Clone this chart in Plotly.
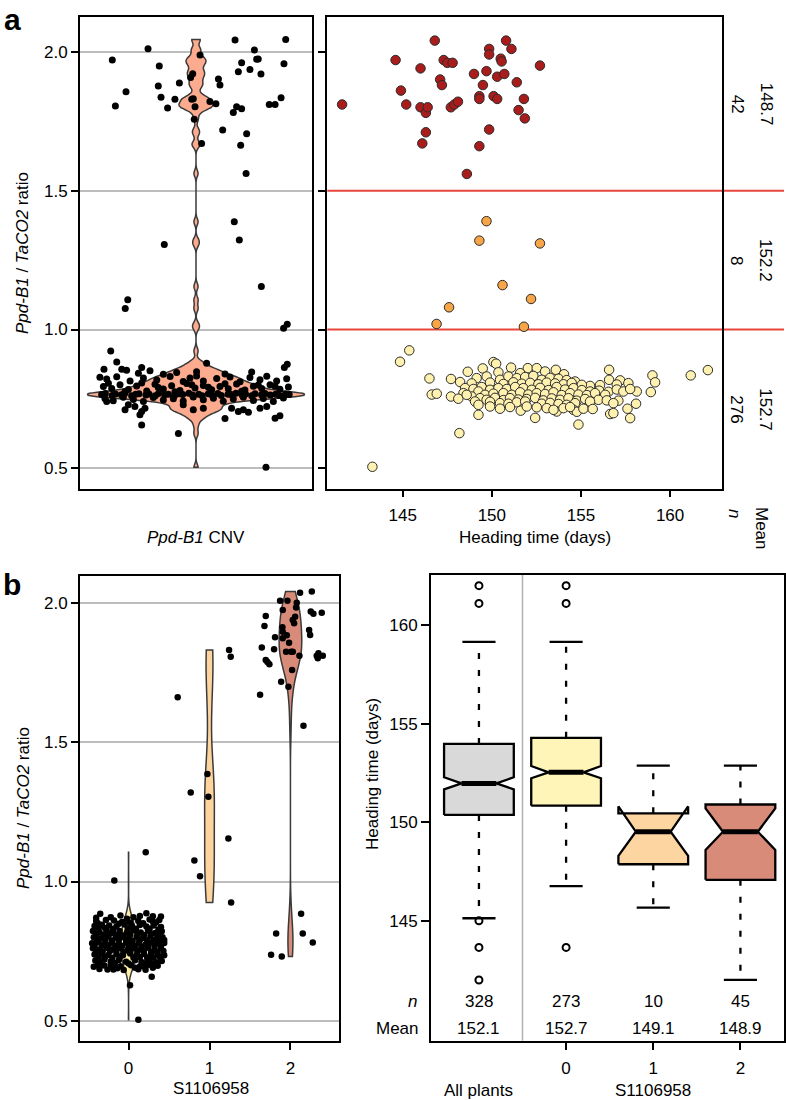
import plotly.graph_objects as go

W, H = 786, 1100
def X(p): return p / W
def Y(p): return 1 - p / H

FONT = "Liberation Sans, Arial, Helvetica, sans-serif"

# ---------------- panel a (right): heading time vs Ppd-B1 ratio ----------------
red_pts = [(141.6,1.81),(144.6,1.97),(144.9,1.86),(145.2,1.81),(146.0,1.94),(146.0,1.80),(146.3,1.78),
           (146.4,1.80),(146.3,1.71),(146.1,1.67),(146.8,2.04),(147.1,1.90),(147.2,1.88),(147.3,1.97),
           (147.5,1.96),(147.8,1.96),(147.7,1.80),(147.9,1.81),(148.1,1.82),(148.6,1.56),(149.0,1.92),
           (149.3,1.84),(149.3,1.83),(149.3,1.66),(149.5,1.88),(149.7,1.93),(149.85,2.01),(149.85,1.99),
           (149.85,1.72),(150.1,1.84),(150.3,1.83),(150.3,1.91),(150.5,1.975),(150.55,1.965),(150.7,1.92),
           (150.8,2.04),(151.1,2.01),(151.4,1.89),(151.5,1.79),(151.8,1.83),(151.85,1.76),(152.7,1.95)]
orange_pts = [(149.7,1.39),(149.3,1.32),(152.7,1.31),(150.6,1.16),(152.2,1.11),(147.6,1.08),(146.9,1.02),(151.8,1.01)]
yellow_pts = [
    (144.85,0.884),(145.37,0.925),(148.65,0.848),(149.49,0.860),(150.09,0.883),(150.24,0.877),(151.08,0.863),
    (152.02,0.861),(152.52,0.861),(152.99,0.849),(153.59,0.855),(154.05,0.839),(156.58,0.855),(159.01,0.835),
    (161.16,0.835),(162.12,0.854),(150.37,0.846),(151.59,0.843),
    (146.50,0.824),(147.71,0.822),(148.22,0.811),(149.71,0.831),(150.46,0.819),(150.93,0.831),(151.40,0.825),
    (151.87,0.829),(152.33,0.833),(152.80,0.819),(153.27,0.826),(153.74,0.823),(154.20,0.818),(154.67,0.813),
    (155.51,0.797),(156.58,0.819),(157.20,0.817),(157.66,0.807),(159.16,0.810),(149.15,0.825),(148.87,0.806),
    (149.90,0.809),(150.65,0.804),(151.21,0.810),(151.68,0.805),(152.15,0.808),(152.61,0.803),(153.08,0.809),
    (153.55,0.806),(154.02,0.803),(154.48,0.808),(155.05,0.801),(156.07,0.800),(157.01,0.802),
    (146.63,0.766),(146.91,0.769),(148.50,0.789),(148.97,0.786),(149.43,0.793),(149.90,0.783),(150.37,0.789),
    (150.84,0.786),(151.31,0.793),(151.77,0.789),(152.24,0.783),(152.71,0.790),(153.18,0.782),(153.64,0.793),
    (154.11,0.784),(154.58,0.789),(155.05,0.782),(155.51,0.777),(156.02,0.780),(156.54,0.776),(157.01,0.784),
    (157.38,0.777),(158.13,0.777),(158.92,0.775),(148.41,0.771),(149.25,0.777),(149.62,0.765),(150.09,0.769),
    (150.65,0.771),(151.12,0.765),(151.59,0.774),(152.05,0.766),(152.52,0.771),(152.99,0.768),(153.46,0.774),
    (153.92,0.764),(154.39,0.771),(154.86,0.766),(155.33,0.764),(155.79,0.771),(156.36,0.765),(157.76,0.786),
    (147.71,0.759),(148.12,0.751),(148.87,0.759),(149.34,0.753),(149.71,0.747),(150.18,0.754),(150.65,0.746),
    (151.02,0.753),(151.49,0.748),(151.96,0.750),(152.43,0.754),(152.89,0.745),(153.36,0.752),(153.83,0.747),
    (154.30,0.753),(154.76,0.744),(155.23,0.750),(155.98,0.747),(156.45,0.745),(157.10,0.744),(149.90,0.740),
    (148.59,0.765),(149.06,0.741),(150.46,0.735),(150.93,0.733),(151.40,0.738),(151.87,0.741),(152.80,0.733),
    (153.27,0.736),(153.74,0.732),(154.20,0.729),(154.67,0.735),(155.51,0.741),(156.82,0.735),
    (149.25,0.729),(149.25,0.693),(149.90,0.723),(150.46,0.715),(151.02,0.721),(151.62,0.708),(151.96,0.723),
    (152.52,0.720),(153.08,0.717),(153.64,0.705),(154.02,0.717),(154.58,0.711),(154.77,0.704),(155.14,0.715),
    (155.66,0.714),(156.64,0.696),(157.61,0.715),(158.09,0.733),(152.43,0.682),(154.86,0.658),(157.76,0.681),
    (148.18,0.627),(153.46,0.711),(154.39,0.721),(156.82,0.699),(143.3,0.506)]

cnv_cuts = [1.0, 1.5]
cnv_n = ["42", "8", "276"]
cnv_means = ["148.7", "152.2", "152.7"]
heading_ticks = [145, 150, 155, 160]
ratio_ticks = [0.5, 1.0, 1.5, 2.0]
ratio_ticktext = ["0.5", "1.0", "1.5", "2.0"]

# ---------------- panel a (left): jittered ratios, one CNV violin ----------------
cnv_jit_pts = [
    (0.567,1.970),(0.583,1.805),(0.638,1.856),(0.752,2.011),(0.810,1.949),(0.805,1.877),(0.819,1.836),
    (0.853,1.797),(0.891,1.829),(0.914,1.887),(0.836,1.306),(0.972,1.907),(0.983,1.921),(0.978,1.829),
    (1.021,1.988),(1.029,1.670),(0.986,1.831),(0.995,1.802),(0.991,1.757),(1.072,1.821),(1.103,1.813),
    (1.116,1.902),(1.124,1.880),(1.138,1.718),(1.198,1.388),(1.224,1.322),(1.202,2.042),(1.193,1.781),
    (1.210,1.802),(1.236,1.795),(1.219,1.928),(1.236,1.960),(1.231,1.663),(1.259,1.562),(1.262,1.705),
    (1.279,1.936),(1.302,2.006),(1.314,1.973),(1.322,1.974),(1.336,1.920),(1.379,1.810),(1.409,1.810),
    (1.440,1.834),(1.455,1.957),(1.464,2.044),
    (0.647,1.107),(0.634,1.076),(1.338,1.155),(1.453,1.005),(1.472,1.019),
    (0.559,0.923),(0.590,0.883),(0.524,0.857),(0.719,0.863),(0.762,0.852),(1.055,0.879),(1.457,0.863),
    (1.472,0.875),(1.288,0.847),(0.616,0.857),(0.641,0.853),(0.702,0.843),(0.831,0.839),(0.900,0.845),
    (1.003,0.848),(1.150,0.840),
    (0.538,0.822),(0.590,0.830),(0.659,0.815),(0.728,0.826),(0.797,0.818),(0.866,0.831),(0.934,0.813),
    (0.969,0.826),(1.003,0.833),(1.038,0.815),(1.107,0.824),(1.176,0.829),(1.228,0.812),(1.279,0.827),
    (1.331,0.819),(1.366,0.832),(1.417,0.815),(1.469,0.823),(0.503,0.828),
    (0.521,0.795),(0.564,0.788),(0.607,0.801),(0.650,0.784),(0.693,0.797),(0.745,0.779),(0.788,0.803),
    (0.831,0.786),(0.874,0.798),(0.917,0.781),(0.952,0.806),(0.995,0.790),(1.038,0.799),(1.081,0.783),
    (1.124,0.795),(1.167,0.787),(1.210,0.804),(1.253,0.782),(1.297,0.796),(1.340,0.788),(1.383,0.801),
    (1.434,0.785),(1.478,0.793),(0.547,0.807),(0.633,0.777),(0.719,0.808),(0.805,0.791),(0.891,0.776),
    (0.978,0.801),(1.064,0.792),(1.150,0.805),(1.236,0.778),(1.322,0.800),(1.409,0.796),
    (0.512,0.766),(0.531,0.770),(0.566,0.763),(0.583,0.768),(0.614,0.765),(0.632,0.771),(0.667,0.762),
    (0.688,0.767),(0.705,0.769),(0.741,0.764),(0.757,0.768),(0.789,0.762),(0.806,0.770),(0.838,0.765),
    (0.857,0.767),(0.889,0.763),(0.913,0.769),(0.931,0.766),(0.963,0.771),(0.982,0.764),(1.014,0.767),
    (1.032,0.762),(1.064,0.769),(1.081,0.765),(1.113,0.770),(1.131,0.763),(1.166,0.767),(1.182,0.766),
    (1.207,0.771),(1.239,0.764),(1.256,0.768),(1.288,0.762),(1.305,0.769),(1.339,0.765),(1.357,0.770),
    (1.384,0.764),(1.412,0.767),(1.431,0.763),(1.463,0.768),(1.482,0.766),
    (0.529,0.752),(0.572,0.744),(0.624,0.756),(0.676,0.748),(0.728,0.741),(0.779,0.755),(0.831,0.746),
    (0.883,0.751),(0.934,0.743),(0.986,0.757),(1.038,0.747),(1.090,0.753),(1.141,0.742),(1.193,0.750),
    (1.245,0.756),(1.297,0.745),(1.348,0.752),(1.400,0.741),(1.452,0.754),
    (0.633,0.711),(0.684,0.723),(0.719,0.705),(0.736,0.717),(0.710,0.693),(1.038,0.717),(0.986,0.711),
    (1.184,0.717),(1.219,0.705),(1.245,0.711),(1.271,0.702),(1.331,0.717),(1.434,0.690),(1.409,0.681),
    (1.150,0.680),(0.538,0.741),(0.650,0.729),(0.934,0.729),(1.366,0.723),(0.719,0.656),(0.909,0.626),
    (1.362,0.504)]

# ---------------- panel b (left): ratio by S1106958 genotype ----------------
geno_labels = ["0", "1", "2"]
geno0_pts = [
    (-0.35,0.884),(-0.10,0.878),(0.22,0.886),(0.06,0.872),(0.30,0.875),
    (-0.40,0.870),(-0.22,0.872),(0.14,0.876),(0.40,0.874),
    (-0.40,0.858),(-0.28,0.862),(-0.18,0.860),(-0.02,0.866),(0.12,0.858),(0.26,0.864),(0.38,0.862),(-0.08,0.855),(0.34,0.853),
    (-0.38,0.850),(-0.12,0.848),(0.02,0.852),(0.18,0.850),(0.30,0.856),
    (-0.42,0.840),(-0.33,0.845),(-0.24,0.842),(-0.15,0.838),(-0.05,0.846),(0.04,0.840),(0.14,0.844),(0.22,0.838),
    (0.31,0.842),(0.40,0.837),(-0.37,0.832),(0.09,0.830),
    (-0.29,0.833),(-0.19,0.829),(-0.01,0.831),(0.26,0.830),(0.37,0.828),
    (-0.44,0.822),(-0.36,0.818),(-0.27,0.824),(-0.19,0.816),(-0.11,0.822),(-0.02,0.818),(0.06,0.825),(0.15,0.817),
    (0.24,0.823),(0.33,0.815),(0.41,0.821),(-0.31,0.810),(0.19,0.808),(-0.06,0.806),
    (-0.40,0.811),(-0.23,0.813),(-0.14,0.809),(0.02,0.810),(0.11,0.813),(0.28,0.812),(0.37,0.808),
    (-0.43,0.800),(-0.34,0.796),(-0.25,0.803),(-0.16,0.798),(-0.08,0.801),(0.01,0.795),(0.10,0.802),(0.18,0.797),
    (0.27,0.804),(0.35,0.796),(0.42,0.800),(-0.39,0.790),(-0.21,0.788),(0.05,0.787),(0.23,0.789),(0.38,0.786),
    (-0.29,0.791),(-0.12,0.790),(-0.03,0.792),(0.14,0.791),(0.31,0.789),(0.44,0.790),
    (-0.45,0.778),(-0.37,0.782),(-0.29,0.776),(-0.20,0.780),(-0.12,0.775),(-0.03,0.781),(0.04,0.776),(0.13,0.780),
    (0.21,0.774),(0.29,0.781),(0.37,0.777),(0.44,0.779),(-0.33,0.770),(-0.16,0.768),(0.00,0.770),(0.16,0.766),(0.32,0.769),
    (-0.42,0.769),(-0.25,0.771),(-0.08,0.768),(0.08,0.769),(0.24,0.771),(0.40,0.769),
    (-0.44,0.760),(-0.36,0.756),(-0.27,0.762),(-0.19,0.757),(-0.10,0.761),(-0.01,0.755),(0.07,0.760),(0.15,0.756),
    (0.24,0.762),(0.32,0.757),(0.40,0.761),(-0.40,0.748),(-0.23,0.750),(-0.06,0.747),(0.11,0.749),(0.28,0.746),(0.43,0.750),
    (-0.32,0.749),(-0.15,0.751),(0.02,0.749),(0.19,0.750),(0.35,0.748),
    (-0.42,0.738),(-0.33,0.742),(-0.25,0.736),(-0.15,0.740),(-0.07,0.735),(0.02,0.741),(0.10,0.736),(0.19,0.740),
    (0.27,0.734),(0.36,0.739),(-0.37,0.728),(-0.20,0.726),(0.06,0.727),(0.23,0.725),(0.39,0.728),
    (-0.29,0.729),(-0.11,0.730),(0.14,0.729),(0.31,0.727),(0.44,0.735),
    (-0.41,0.716),(-0.30,0.720),(-0.22,0.713),(-0.12,0.718),(-0.03,0.712),(0.08,0.717),(0.16,0.711),(0.26,0.716),
    (0.34,0.710),(0.41,0.714),
    (-0.35,0.708),(-0.17,0.707),(0.00,0.705),(0.21,0.706),(0.30,0.703),
    (-0.38,0.700),(-0.30,0.698),(-0.22,0.702),(-0.10,0.696),(0.03,0.699),(0.14,0.695),(0.25,0.701),(0.36,0.697),(-0.43,0.694),
    (-0.19,0.692),(0.08,0.690),(0.20,0.694),
    (-0.36,0.686),(-0.26,0.684),(-0.14,0.688),(-0.06,0.682),(0.12,0.685),(0.21,0.683),(0.30,0.690),
    (-0.176,1.004),(0.212,1.105),(0.121,0.503),(0.018,0.627),(0.286,0.658),(-0.188,0.684)]
geno1_pts = [(0.607,1.662),(0.768,1.320),(0.974,1.386),(0.986,1.305),(1.242,1.832),(1.262,1.808),
             (1.233,1.155),(0.813,1.076),(0.883,1.019),(1.267,0.925)]
geno2_pts = [
    (1.625,1.671),(1.646,1.841),(1.695,1.954),(1.679,1.918),(1.695,1.796),(1.716,1.789),(1.740,1.781),
    (1.798,1.835),(1.810,1.878),(1.872,2.009),(1.885,1.718),(1.905,1.976),(1.905,1.898),(1.901,1.914),
    (1.905,1.874),(1.946,1.826),(1.955,1.885),(1.963,2.009),(1.975,1.700),(1.983,1.858),(2.008,1.826),
    (2.021,1.760),(2.029,1.826),(2.029,1.940),(2.045,1.928),(2.058,1.952),(2.070,1.985),(2.078,2.002),
    (2.111,1.811),(2.119,2.038),(2.161,1.560),(2.231,1.904),(2.243,1.886),(2.251,1.970),(2.264,2.042),
    (2.284,1.962),(2.325,1.811),(2.338,1.802),(2.346,1.820),(2.387,1.966),(2.400,1.811),
    (1.761,0.737),(1.893,0.731),(1.823,0.813),(2.132,0.884),(2.152,0.813),(2.276,0.781)]

# ---------------- panel b (right): heading time box plots ----------------
box_labels = ["All plants", "0", "1", "2"]
box_n = ["328", "273", "10", "45"]
box_mean = ["152.1", "152.7", "149.1", "148.9"]
box_q1 = [150.37, 150.84, 147.87, 147.08]
box_med = [151.97, 152.53, 149.52, 149.52]
box_q3 = [153.97, 154.28, 150.45, 150.90]
box_wlo = [145.13, 146.76, 145.67, 142.0]
box_whi = [159.15, 159.15, 152.87, 152.87]
box_nlo = [151.67, 152.23, 148.30, 148.60]
box_nhi = [152.28, 152.85, 150.80, 150.70]
box_out = [[162.0, 161.1, 145.0, 143.65, 142.0], [162.0, 161.1, 143.65], [], []]
box_colors = ["#d9d9d9", "#fff5b8", "#fdd5a0", "#d98b79"]

# ---------------- figure ----------------
fig = go.Figure()
BLACK = "#000000"
OUT = "#2b2b2b"

# a-left violin + points
cj_x, cj_y = zip(*cnv_jit_pts)
fig.add_trace(go.Violin(y=list(cj_y), x0=1, width=1.12, scalemode="width", spanmode="hard",
                        bandwidth=0.012, points=False, fillcolor="#fcab8e", opacity=1,
                        line=dict(color="#3a3a3a", width=1.5), xaxis="x", yaxis="y",
                        showlegend=False, hoverinfo="skip"))
fig.add_trace(go.Scatter(x=list(cj_x), y=list(cj_y), mode="markers", xaxis="x", yaxis="y",
                         marker=dict(size=7, color=BLACK), showlegend=False, hoverinfo="skip"))

# a-right scatter
for pts, col in [(yellow_pts, "#fff2b0"), (orange_pts, "#f8a548"), (red_pts, "#a81c1c")]:
    dx, dy = zip(*pts)
    fig.add_trace(go.Scatter(x=list(dx), y=list(dy), mode="markers", xaxis="x2", yaxis="y2",
                             marker=dict(size=9.5, color=col, line=dict(color=OUT, width=1)),
                             showlegend=False, hoverinfo="skip"))

# b-left violins + points
geno_pts = [geno0_pts, geno1_pts, geno2_pts]
geno_fill = ["#fff0a8", "#fdd49e", "#d98b79"]
geno_width = [0.2, 0.12, 0.28]
geno_bw = [0.03, 0.12, 0.06]
for i, pts in enumerate(geno_pts):
    gx, gy = zip(*pts)
    fig.add_trace(go.Violin(y=list(gy), x0=int(geno_labels[i]), width=geno_width[i], scalemode="width",
                            spanmode="hard", bandwidth=geno_bw[i], points=False,
                            fillcolor=geno_fill[i], opacity=1, line=dict(color="#3a3a3a", width=1.5),
                            xaxis="x4", yaxis="y4", showlegend=False, hoverinfo="skip"))
for i, pts in enumerate(geno_pts):
    gx, gy = zip(*pts)
    fig.add_trace(go.Scatter(x=list(gx), y=list(gy), mode="markers", xaxis="x4", yaxis="y4",
                             marker=dict(size=6.5, color=BLACK), showlegend=False, hoverinfo="skip"))

# b-right notched boxes
HW, NW, CW = 0.4, 0.2, 0.19
for i in range(len(box_labels)):
    p = i + 1
    fig.add_trace(go.Scatter(x=[p, p, None, p, p], y=[box_q3[i], box_whi[i], None, box_q1[i], box_wlo[i]],
                             mode="lines", line=dict(color=BLACK, width=2.3, dash="6px,11px"),
                             xaxis="x5", yaxis="y5", showlegend=False, hoverinfo="skip"))
    fig.add_trace(go.Scatter(x=[p - CW, p + CW, None, p - CW, p + CW],
                             y=[box_whi[i], box_whi[i], None, box_wlo[i], box_wlo[i]],
                             mode="lines", line=dict(color=BLACK, width=2.3),
                             xaxis="x5", yaxis="y5", showlegend=False, hoverinfo="skip"))
    bx = [p - HW, p - HW, p - NW, p - HW, p - HW, p + HW, p + HW, p + NW, p + HW, p + HW, p - HW]
    by = [box_q1[i], box_nlo[i], box_med[i], box_nhi[i], box_q3[i], box_q3[i], box_nhi[i],
          box_med[i], box_nlo[i], box_q1[i], box_q1[i]]
    fig.add_trace(go.Scatter(x=bx, y=by, mode="lines", fill="toself", fillcolor=box_colors[i],
                             line=dict(color=BLACK, width=2.3), xaxis="x5", yaxis="y5",
                             showlegend=False, hoverinfo="skip"))
    fig.add_trace(go.Scatter(x=[p - NW, p + NW], y=[box_med[i], box_med[i]], mode="lines",
                             line=dict(color=BLACK, width=5), xaxis="x5", yaxis="y5",
                             showlegend=False, hoverinfo="skip"))
    if box_out[i]:
        fig.add_trace(go.Scatter(x=[p] * len(box_out[i]), y=box_out[i], mode="markers",
                                 marker=dict(symbol="circle-open", size=7, color=BLACK, line=dict(width=2)),
                                 xaxis="x5", yaxis="y5", showlegend=False, hoverinfo="skip"))

# ---------------- axes ----------------
tickfont = dict(family=FONT, size=17, color=BLACK)
frame = dict(showline=True, linecolor=BLACK, linewidth=2, mirror=True, zeroline=False, type="linear")
A_TOP, A_BOT = 17, 489
B_TOP, B_BOT = 576, 1040.7
ratio_range_a = [0.426, 2.125]

layout = dict(
    width=W, height=H, autosize=False, margin=dict(l=0, r=0, t=0, b=0),
    paper_bgcolor="white", plot_bgcolor="white", violinmode="overlay",
    font=dict(family=FONT, size=17, color=BLACK),
    xaxis=dict(domain=[X(80), X(312)], range=[0.4, 1.6], showticklabels=False, ticks="",
               showgrid=False, anchor="y", **frame),
    yaxis=dict(domain=[Y(A_BOT), Y(A_TOP)], range=ratio_range_a, tickvals=ratio_ticks,
               ticktext=ratio_ticktext, ticks="outside", ticklen=7, tickwidth=1.5, tickcolor=BLACK,
               showgrid=True, gridcolor="#bdbdbd", gridwidth=1.5, tickfont=tickfont, anchor="x", **frame),
    xaxis2=dict(domain=[X(327.3), X(722.3)], range=[140.77, 162.93], tickvals=heading_ticks,
                ticks="outside", ticklen=6, tickwidth=1.5, tickcolor=BLACK, showgrid=False,
                tickfont=tickfont, ticklabelstandoff=4, anchor="y2", **frame),
    yaxis2=dict(domain=[Y(A_BOT), Y(A_TOP)], range=ratio_range_a, tickvals=ratio_ticks,
                showticklabels=False, ticks="outside", ticklen=7, tickwidth=1.5, tickcolor=BLACK,
                showgrid=False, anchor="x2", **frame),
    xaxis3=dict(domain=[X(722.3), X(784)], range=[0, 1], showticklabels=False, ticks="",
                showgrid=False, anchor="y3", **frame),
    yaxis3=dict(domain=[Y(A_BOT), Y(A_TOP)], range=ratio_range_a, showticklabels=False, ticks="",
                showgrid=False, anchor="x3", **frame),
    xaxis4=dict(domain=[X(80), X(339)], range=[-0.6, 2.6], tickvals=[0, 1, 2], ticktext=geno_labels,
                ticks="outside", ticklen=7, tickwidth=1.5, tickcolor=BLACK, showgrid=False,
                tickfont=tickfont, ticklabelstandoff=4, anchor="y4", **frame),
    yaxis4=dict(domain=[Y(B_BOT), Y(B_TOP)], range=[0.428, 2.098], tickvals=ratio_ticks,
                ticktext=ratio_ticktext, ticks="outside", ticklen=7, tickwidth=1.5, tickcolor=BLACK,
                showgrid=True, gridcolor="#bdbdbd", gridwidth=1.5, tickfont=tickfont, anchor="x4", **frame),
    xaxis5=dict(domain=[X(431), X(784)], range=[0.45, 4.5], tickvals=[2, 3, 4], ticktext=box_labels[1:],
                ticks="outside", ticklen=7, tickwidth=1.5, tickcolor=BLACK, showgrid=False,
                tickfont=tickfont, ticklabelstandoff=4, anchor="y5", **frame),
    yaxis5=dict(domain=[Y(B_BOT), Y(575)], range=[138.92, 162.54], tickvals=heading_ticks,
                ticks="outside", ticklen=8, tickwidth=1.5, tickcolor=BLACK, showgrid=False,
                tickfont=tickfont, anchor="x5", **frame),
)
fig.update_layout(**layout)

shapes = []
for c in cnv_cuts:
    shapes.append(dict(type="line", xref="paper", yref="y2", x0=X(327.3), x1=X(784), y0=c, y1=c,
                       line=dict(color="#e8463a", width=2), layer="below"))
shapes.append(dict(type="line", xref="x5", yref="paper", x0=1.5, x1=1.5, y0=Y(B_BOT), y1=Y(575),
                   line=dict(color="#b0b0b0", width=1.5), layer="below"))
fig.update_layout(shapes=shapes)

ann = []
def A(text, x, y, xref="paper", yref="paper", angle=0, size=17, xanchor="center", yanchor="middle"):
    ann.append(dict(text=text, x=x, y=y, xref=xref, yref=yref, textangle=angle, showarrow=False,
                    xanchor=xanchor, yanchor=yanchor, font=dict(family=FONT, size=size, color=BLACK)))

A("<b>a</b>", X(12), Y(19), size=30)
A("<b>b</b>", X(12), Y(584), size=30)
A("<i>Ppd-B1</i> / <i>TaCO2</i> ratio", X(23), Y(253), angle=-90)
A("<i>Ppd-B1</i> CNV", X(196), Y(538))
A("Heading time (days)", X(535), Y(538))
A("<i>n</i>", X(735), Y(513), angle=90)
A("Mean", X(762), Y(528), angle=90)
bounds = [ratio_range_a[0]] + cnv_cuts + [ratio_range_a[1]]
for k in range(3):
    yc = (bounds[k] + bounds[k + 1]) / 2
    A(cnv_n[2 - k], X(737), yc, yref="y2", angle=90)
    A(cnv_means[2 - k], X(766), yc, yref="y2", angle=90)

A("<i>Ppd-B1</i> / <i>TaCO2</i> ratio", X(23), Y(808), angle=-90)
A("S1106958", X(211), Y(1088))
A("Heading time (days)", X(372), Y(774), angle=-90)
A("<i>n</i>", X(419), Y(1001), xanchor="right")
A("Mean", X(421), Y(1028), xanchor="right")
for i in range(len(box_labels)):
    A(box_n[i], i + 1, Y(1001), xref="x5")
    A(box_mean[i], i + 1, Y(1028), xref="x5")
A("All plants", 1, Y(1090), xref="x5")
A("S1106958", 3, Y(1090), xref="x5")
fig.update_layout(annotations=ann)

fig.write_html("out.html", config={"displayModeBar": False},
               post_script="document.body.style.margin='0px';document.body.style.overflow='hidden';")
